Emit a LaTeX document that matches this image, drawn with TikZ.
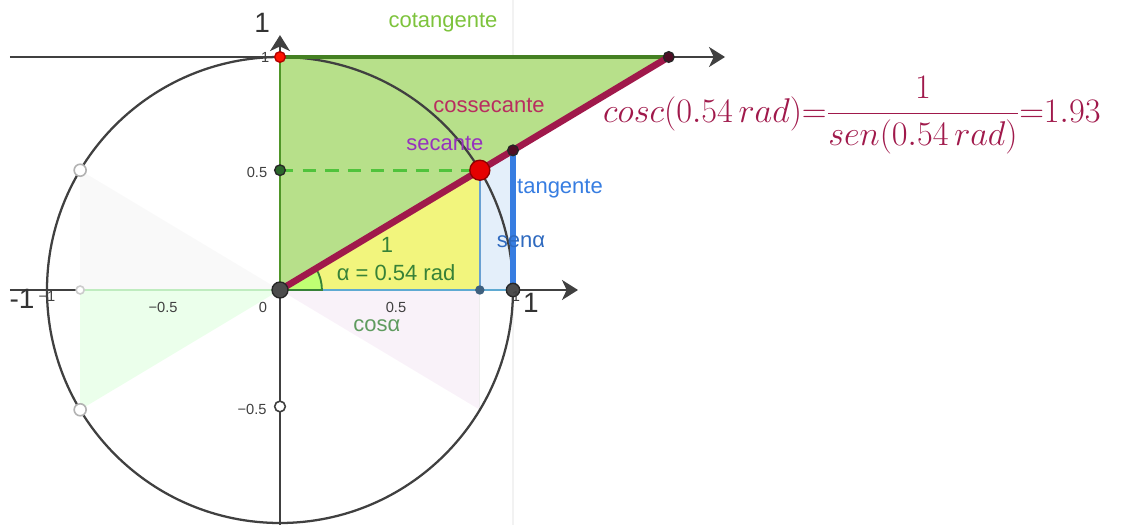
\documentclass[tikz,border=0pt]{standalone}
\usepackage{amsmath}
\usepackage{fontspec}
\setsansfont{Liberation Sans}
\usetikzlibrary{arrows.meta,calc}

\definecolor{cotgreen}{RGB}{125,195,60}
\definecolor{trifill}{RGB}{183,224,138}
\definecolor{triedge}{RGB}{80,150,40}
\definecolor{yellowfill}{RGB}{242,245,125}
\definecolor{bluefill}{RGB}{228,239,250}
\definecolor{senblue}{RGB}{105,160,210}
\definecolor{cosblue}{RGB}{95,170,210}
\definecolor{tanblue}{RGB}{55,125,225}
\definecolor{csccol}{RGB}{160,25,75}
\definecolor{csctext}{RGB}{185,45,95}
\definecolor{seccol}{RGB}{150,50,190}
\definecolor{anglegreen}{RGB}{55,130,55}
\definecolor{dashgreen}{RGB}{80,195,60}

\begin{document}
\begin{tikzpicture}[
    x=174.75pt, y=174.75pt,
    axis/.style={draw=black!75, line width=1.6pt, -{Stealth[length=12pt,width=15pt,inset=3.5pt]}},
    txt/.style={font=\sffamily\fontsize{16.5}{18}\selectfont, anchor=base, inner sep=0pt},
    ticklabel/.style={font=\sffamily\fontsize{11}{12}\selectfont, anchor=base, inner sep=0pt, text=black!75},
    biglabel/.style={font=\sffamily\fontsize{21}{24}\selectfont, anchor=base, inner sep=0pt, text=black!80},
    dot/.style={circle, inner sep=0pt, minimum size=#1, draw=black!85, line width=1pt, fill=black!70},
    hollow/.style={circle, inner sep=0pt, minimum size=#1, draw=black!30, line width=1.2pt, fill=white}
]
\useasboundingbox (-1.2017,-1.0086) rectangle (3.6438,1.2446);

\pgfmathsetmacro{\ang}{0.54*180/pi}

% Points
\coordinate (O) at (0,0);
\coordinate (P) at (\ang:1);
\coordinate (C) at ({cos(\ang)},0);
\coordinate (T) at (1,{tan(\ang)});
\coordinate (K) at ({cot(\ang)},1);
\coordinate (Y) at (0,1);
\coordinate (S) at (0,{sin(\ang)});
\coordinate (U) at (1,0);
\coordinate (Yneg) at (0,-0.5);
\coordinate (Pl) at ({-cos(\ang)},{sin(\ang)});
\coordinate (Cl) at ({-cos(\ang)},0);
\coordinate (Pll) at ({-cos(\ang)},{-sin(\ang)});
\coordinate (Pd) at ({cos(\ang)},{-sin(\ang)});

% Faint mirrored triangles
\fill[black!2.5] (Pl) -- (Cl) -- (O) -- cycle;
\fill[green!8] (Cl) -- (Pll) -- (O) -- cycle;
\fill[violet!5] (O) -- (C) -- (Pd) -- cycle;
\draw[black!7, line width=0.8pt] (C) -- (Pd);
\draw[black!5, line width=0.8pt] (1,1.2446) -- (1,-1.0086);

% Coloured regions
\fill[trifill] (O) -- (Y) -- (K) -- cycle;
\fill[yellowfill] (O) -- (C) -- (P) -- cycle;
\fill[bluefill] (C) -- (U) -- (T) -- (P) -- cycle;
\fill[green!45!yellow!55] (O) -- (0.18,0) arc[start angle=0, end angle=\ang, radius=0.18] -- cycle;

% Unit circle
\draw[black!75, line width=1.7pt] (O) circle[radius=1];

% Axes
\coordinate (xl) at (-1.1588,0);
\coordinate (xr) at (1.279,0);
\coordinate (tl) at (-1.1588,1);
\coordinate (tr) at (1.91,1);
\coordinate (yb) at (0,-1.0086);
\coordinate (yt) at (0,1.094);
\draw[axis] (xl) -- (xr);
\draw[axis] (tl) -- (tr);
\draw[axis] (yb) -- (yt);
\draw[black!30!green!25!white, line width=2.2pt] (Cl) -- (O);

% Triangle edges
\draw[triedge, line width=1.5pt] (O) -- (Y);
\draw[triedge!85!black, line width=2.4pt] (Y) -- (K);
\draw[cosblue, line width=2.2pt] (O) -- (U);
\draw[senblue, line width=2pt] (C) -- (P);
\draw[tanblue, line width=3.8pt] (U) -- (T);
\draw[dashgreen, line width=2.2pt, dash pattern=on 10pt off 7pt] (S) -- (P);
\draw[anglegreen, line width=1.4pt] (O) -- (0.18,0) arc[start angle=0, end angle=\ang, radius=0.18];
\draw[csccol, line width=5pt] (O) -- (K);

% Dots
\node[hollow=9pt] (pl) at (Pl) {};
\node[hollow=9pt] (pll) at (Pll) {};
\node[hollow=6pt, draw=black!20] (cl) at (Cl) {};
\node[hollow=8pt, draw=black!75] (yneg) at (Yneg) {};
\node[dot=8pt, fill=anglegreen!80!black] (s) at (S) {};
\node[dot=8pt, fill=red!85!orange, draw=red!70!black] (y) at (Y) {};
\node[dot=6pt, fill=senblue!60!black, draw=senblue!60!black] (c) at (C) {};
\node[dot=8pt, fill=csccol!50!black] (t) at (T) {};
\node[dot=8pt, fill=csccol!50!black] (k) at (K) {};
\node[dot=10pt] (u) at (U) {};
\node[dot=12pt] (o) at (O) {};
\node[circle, inner sep=0pt, minimum size=15pt, fill=red!90!black, draw=red!55!black, line width=1pt] (p) at (P) {};

% Tick labels
\node[ticklabel] (t05) at (0.498,-0.0987) {0.5};
\node[ticklabel] (t0) at (-0.073,-0.0987) {0};
\node[ticklabel] (tm05) at (-0.502,-0.0987) {−0.5};
\node[ticklabel] (tm1) at (-1.0,-0.0515) {−1};
\node[ticklabel] (t1) at (1.013,-0.0515) {1};
\node[ticklabel] (ty05) at (-0.0987,0.4807) {0.5};
\node[ticklabel] (tym05) at (-0.12,-0.536) {−0.5};
\node[ticklabel] (ty1) at (-0.064,0.9785) {1};
\node[biglabel] (bigxm) at (-1.107,-0.0773) {-1};
\node[biglabel] (bigx) at (1.077,-0.0987) {1};
\node[biglabel] (bigy) at (-0.077,1.107) {1};

% Labels
\node[txt, text=cotgreen] (lcot) at (0.6996,1.1245) {cotangente};
\node[txt, text=csctext] (lcsc) at (0.897,0.7597) {cossecante};
\node[txt, text=seccol] (lsec) at (0.708,0.5966) {secante};
\node[txt, text=tanblue] (ltan) at (1.2017,0.412) {tangente};
\node[txt, text=tanblue!85!black] (lsen) at (1.034,0.1845) {senα};
\node[txt, text=anglegreen] (lone) at (0.459,0.1588) {1};
\node[txt, text=anglegreen] (lang) at (0.498,0.0429) {α = 0.54 rad};
\node[txt, text=anglegreen!80!white] (lcos) at (0.416,-0.180) {cosα};

% Formula
\node[anchor=base west, inner sep=0pt, text=csccol, font=\fontsize{25}{30}\selectfont] (formula) at (1.386,0.721)
    {\scalebox{1.035}{$cosc(0.54\,rad){=}\dfrac{1}{sen(0.54\,rad)}{=}1.93$}};

\end{tikzpicture}
\end{document}
